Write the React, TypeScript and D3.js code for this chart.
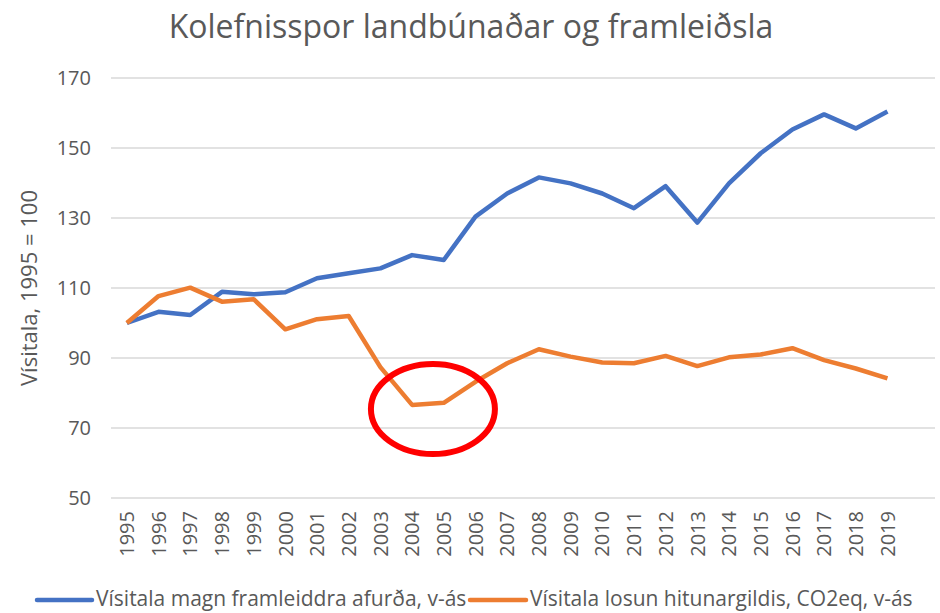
import React from 'react';
import * as d3 from 'd3';

const years = [
  '1995', '1996', '1997', '1998', '1999', '2000', '2001', '2002', '2003',
  '2004', '2005', '2006', '2007', '2008', '2009', '2010', '2011', '2012',
  '2013', '2014', '2015', '2016', '2017', '2018', '2019',
];
// Vísitala magn framleiddra afurða
const production = [
  100, 103.2, 102.3, 108.9, 108.2, 108.8, 112.8, 114.2, 115.6, 119.4, 118,
  130.4, 137, 141.6, 139.9, 137, 132.8, 139.1, 128.7, 139.9, 148.5, 155.3,
  159.6, 155.6, 160.4,
];
// Vísitala losun hitunargildis, CO2eq
const emissions = [
  100, 107.7, 110.1, 106.1, 106.8, 98.2, 101.1, 102, 87.4, 76.6, 77.2, 83.2,
  88.5, 92.5, 90.4, 88.7, 88.5, 90.6, 87.7, 90.2, 91, 92.8, 89.4, 87, 84.2,
];
const yTicks = [50, 70, 90, 110, 130, 150, 170];
const seriesNames = [
  'Vísitala magn framleiddra afurða, v-ás',
  'Vísitala losun hitunargildis, CO2eq, v-ás',
];
const colors = ['#4472C4', '#ED7D31'];

const W = 940;
const H = 613;
const plotLeft = 111;
const plotRight = 935;
const plotTop = 78;
const plotBottom = 498;
const font = '"Open Sans", sans-serif';
const grey = '#595959';

const App = () => {
  const band = (plotRight - plotLeft) / (years.length + 1);
  const xBand = d3
    .scaleBand()
    .domain(years)
    .range([plotLeft, plotLeft + band * years.length]);
  const x = (d) => xBand(d) + xBand.bandwidth() / 2;
  const y = d3.scaleLinear().domain([50, 170]).range([plotBottom, plotTop]);

  const line = d3
    .line()
    .x((d, i) => x(years[i]))
    .y((d) => y(d));

  const series = [production, emissions];

  // red circle round the 2004-2005 dip
  const cx = (x('2004') + x('2005')) / 2 + 5;
  const cy = y(75.4);

  return (
    <svg
      width={W}
      height={H}
      style={{ position: 'absolute', left: 0, top: 0, background: '#fff' }}
      fontFamily={font}
    >
      <text x={471} y={38} textAnchor="middle" fontSize={32} fill={grey}>
        Kolefnisspor landbúnaðar og framleiðsla
      </text>

      {yTicks.map((t) => (
        <g key={t}>
          <line
            x1={plotLeft}
            x2={plotRight}
            y1={y(t)}
            y2={y(t)}
            stroke="#d9d9d9"
            strokeWidth={1.5}
          />
          <text
            x={91}
            y={y(t)}
            dy="0.35em"
            textAnchor="end"
            fontSize={20}
            fill={grey}
          >
            {t}
          </text>
        </g>
      ))}

      <text
        transform={`translate(37,${(plotTop + plotBottom) / 2}) rotate(-90)`}
        textAnchor="middle"
        fontSize={22}
        fill={grey}
      >
        Vísitala, 1995 = 100
      </text>

      {years.map((yr) => (
        <text
          key={yr}
          transform={`translate(${x(yr)},${plotBottom + 13}) rotate(-90)`}
          textAnchor="end"
          dy="0.36em"
          fontSize={20}
          fill={grey}
        >
          {yr}
        </text>
      ))}

      {series.map((s, i) => (
        <path
          key={i}
          d={line(s)}
          fill="none"
          stroke={colors[i]}
          strokeWidth={4.5}
          strokeLinejoin="round"
        />
      ))}

      <ellipse
        cx={cx}
        cy={cy}
        rx={62}
        ry={45}
        fill="none"
        stroke="#FF0000"
        strokeWidth={6}
      />

      <g fontSize={21} fill={grey}>
        <line x1={37} x2={92} y1={600} y2={600} stroke={colors[0]} strokeWidth={4.5} strokeLinecap="round" />
        <text x={96} y={606}>{seriesNames[0]}</text>
        <line x1={470} x2={526} y1={600} y2={600} stroke={colors[1]} strokeWidth={4.5} strokeLinecap="round" />
        <text x={530} y={606}>{seriesNames[1]}</text>
      </g>
    </svg>
  );
};

export default App;
